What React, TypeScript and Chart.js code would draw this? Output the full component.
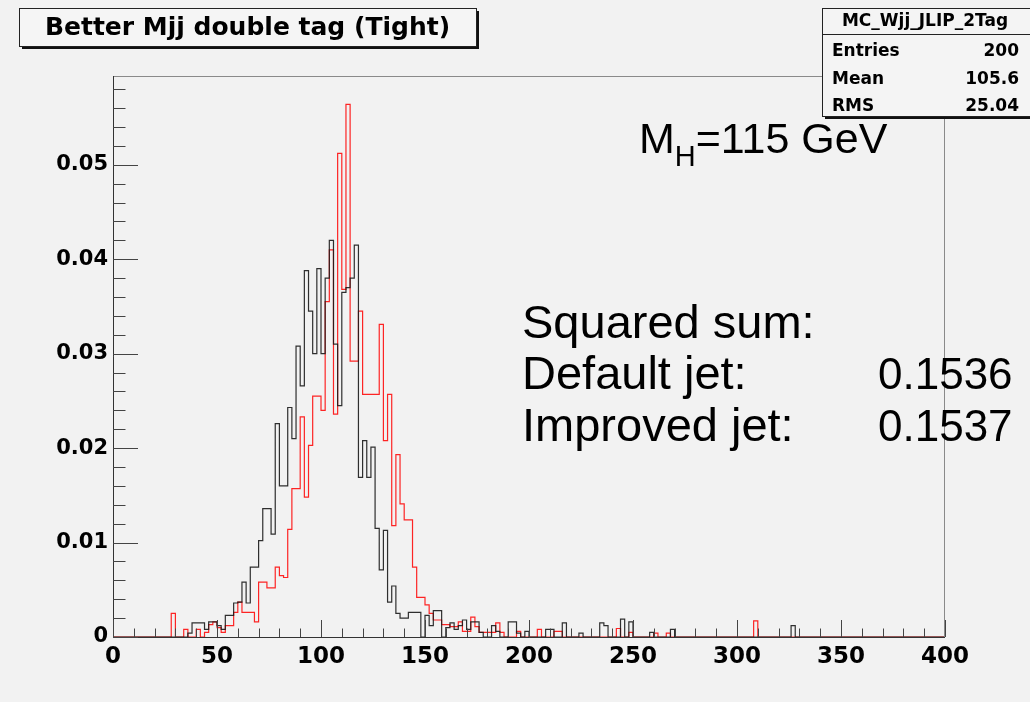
import React, { useEffect, useRef } from "react";
import { Chart, registerables } from "chart.js";

Chart.register(...registerables);

// ---------- data ----------
const BIN_WIDTH = 2;
const X_MIN = 0;
const X_MAX = 400;
const Y_MAX = 0.0594;
const CORE_START = 30; // low edge of first bin in the dense arrays

// Default jet (black), bins of 2 GeV from 30 to 160 GeV
const defaultJetCore = [
  0, 0, 0, 0, 0.0004, 0.0015, 0.0015, 0.0015, 0.0008, 0.0016,
  0.0016, 0.0012, 0.0008, 0.0023, 0.0023, 0.0036, 0.0037, 0.0058, 0.0036, 0.0074,
  0.0074, 0.0102, 0.0136, 0.0136, 0.0109, 0.0226, 0.016, 0.016, 0.0243, 0.021,
  0.0308, 0.0266, 0.0388, 0.0345, 0.03, 0.039, 0.03, 0.038, 0.042, 0.031,
  0.0245, 0.0365, 0.037, 0.038, 0.0415, 0.0169, 0.0208, 0.0169, 0.0201, 0.0115,
  0.0071, 0.0113, 0.0037, 0.0054, 0.0025, 0.002, 0.002, 0.0026, 0.0026, 0.0026,
  0, 0.0023, 0.0012, 0.0028, 0.0028,
];

// Improved jet (red), bins of 2 GeV from 30 to 160 GeV
const improvedJetCore = [
  0.0025, 0, 0, 0.0008, 0, 0, 0.0008, 0, 0.0005, 0.0013,
  0.0016, 0.001, 0.0005, 0.0012, 0.0012, 0.0026, 0.0037, 0.0026, 0.0026, 0.0026,
  0.0016, 0.0058, 0.0058, 0.0052, 0.0052, 0.0074, 0.0065, 0.0063, 0.0114, 0.0157,
  0.0157, 0.0233, 0.0148, 0.0203, 0.0255, 0.0255, 0.024, 0.0355, 0.041, 0.0236,
  0.0512, 0.0368, 0.0564, 0.0292, 0.0292, 0.0345, 0.0257, 0.0257, 0.0257, 0.0257,
  0.0331, 0.0208, 0.0257, 0.0118, 0.0193, 0.0141, 0.0124, 0.0124, 0.0074, 0.0042,
  0.0042, 0.0034, 0.0025, 0.0018, 0.0018,
];

// sparse tails: bin low edges (GeV) and contents
const defaultJetTailEdges = [162, 164, 166, 168, 170, 172, 174, 176, 178, 184, 186, 192, 194, 196, 200, 210, 212, 218, 226, 236, 238, 246, 250, 260, 270, 328];
const defaultJetTailValues = [0.001, 0.0015, 0.0008, 0.0012, 0.0018, 0.0008, 0.0016, 0.0016, 0.0005, 0.0012, 0.0006, 0.0016, 0.0016, 0.0004, 0.0006, 0.0008, 0.0008, 0.0015, 0.0004, 0.0015, 0.0012, 0.0019, 0.0016, 0.0005, 0.0008, 0.0012];

const improvedJetTailEdges = [160, 162, 164, 166, 168, 170, 172, 174, 176, 178, 180, 182, 184, 186, 188, 196, 206, 214, 216, 244, 250, 262, 268, 310];
const improvedJetTailValues = [0.0013, 0.0013, 0.0011, 0.0011, 0.0016, 0.0006, 0.0006, 0.0021, 0.0011, 0.0005, 0.0005, 0.0005, 0.0005, 0.0015, 0.0005, 0.0006, 0.0008, 0.0006, 0.0006, 0.0009, 0.0005, 0.0004, 0.0004, 0.0017];

const titleText = "Better Mjj double tag (Tight)";
const statsName = "MC_Wjj_JLIP_2Tag";
const statsLabels = ["Entries", "Mean", "RMS"];
const statsValues = ["200", "105.6", "25.04"];
const summaryLabels = ["Squared sum:", "Default jet:", "Improved jet:"];
const summaryValues = ["", "0.1536", "0.1537"];

// ---------- helpers ----------
function buildBins(core: number[], tailEdges: number[], tailValues: number[]) {
  const n = (X_MAX - X_MIN) / BIN_WIDTH;
  const bins = new Array(n).fill(0);
  const off = (CORE_START - X_MIN) / BIN_WIDTH;
  core.forEach((v, i) => (bins[off + i] = v));
  tailEdges.forEach((e, i) => (bins[(e - X_MIN) / BIN_WIDTH] = tailValues[i]));
  return bins;
}

function toSteps(bins: number[]) {
  const pts = bins.map((v, i) => ({ x: X_MIN + i * BIN_WIDTH, y: v }));
  pts.push({ x: X_MAX, y: bins[bins.length - 1] });
  return pts;
}

const rootPlugin = {
  id: "rootStyle",
  beforeDraw(chart: any) {
    const ctx = chart.ctx;
    ctx.save();
    ctx.fillStyle = "#f2f2f2";
    ctx.fillRect(0, 0, chart.width, chart.height);
    ctx.restore();
  },
  afterDatasetsDraw(chart: any) {
    const ctx = chart.ctx;
    const { left, right, top, bottom } = chart.chartArea;
    const xs = chart.scales.x;
    const ys = chart.scales.y;
    ctx.save();
    // frame
    ctx.strokeStyle = "#8a8a8a";
    ctx.lineWidth = 1;
    ctx.strokeRect(left + 0.5, top + 0.5, right - left - 1, bottom - top);
    // axes
    ctx.strokeStyle = "#333";
    ctx.beginPath();
    ctx.moveTo(left + 0.5, top);
    ctx.lineTo(left + 0.5, bottom + 0.5);
    ctx.lineTo(right, bottom + 0.5);
    ctx.stroke();
    // x ticks (inward)
    ctx.strokeStyle = "#444";
    ctx.beginPath();
    for (let v = X_MIN; v <= X_MAX; v += 10) {
      const px = Math.round(xs.getPixelForValue(v)) + 0.5;
      const len = v % 50 === 0 ? 17 : 8.5;
      ctx.moveTo(px, bottom);
      ctx.lineTo(px, bottom - len);
    }
    ctx.stroke();
    // y ticks (inward)
    ctx.beginPath();
    for (let i = 0; i * 0.002 <= Y_MAX + 1e-9; i++) {
      const py = Math.round(ys.getPixelForValue(i * 0.002)) + 0.5;
      const len = i % 5 === 0 ? 25 : 12.5;
      ctx.moveTo(left, py);
      ctx.lineTo(left + len, py);
    }
    ctx.stroke();
    ctx.restore();
  },
  afterDraw(chart: any) {
    const ctx = chart.ctx;
    ctx.save();
    // ---- title box ----
    const tx = 19, ty = 8, tw = 457, th = 38;
    ctx.fillStyle = "#111";
    ctx.fillRect(tx + 3, ty + 3, tw, th);
    ctx.fillStyle = "#f5f5f5";
    ctx.fillRect(tx, ty, tw, th);
    ctx.strokeStyle = "#222";
    ctx.lineWidth = 1;
    ctx.strokeRect(tx + 0.5, ty + 0.5, tw, th);
    ctx.fillStyle = "#000";
    ctx.font = "bold 25px 'DejaVu Sans'";
    ctx.textAlign = "center";
    ctx.textBaseline = "middle";
    ctx.fillText(titleText, tx + tw / 2, ty + th / 2 + 1, tw - 20);

    // ---- stats box ----
    const sx = 822, sy = 8, sw = 215, sh = 108;
    ctx.fillStyle = "#111";
    ctx.fillRect(sx + 3, sy + 3, sw, sh);
    ctx.fillStyle = "#f4f4f4";
    ctx.fillRect(sx, sy, sw, sh);
    ctx.strokeStyle = "#222";
    ctx.strokeRect(sx + 0.5, sy + 0.5, sw, sh);
    ctx.beginPath();
    ctx.moveTo(sx, 34.5);
    ctx.lineTo(sx + sw, 34.5);
    ctx.stroke();
    ctx.fillStyle = "#000";
    ctx.font = "bold 17px 'DejaVu Sans'";
    ctx.textAlign = "center";
    ctx.textBaseline = "middle";
    ctx.fillText(statsName, 925, 22, 186);
    ctx.font = "bold 17px 'DejaVu Sans'";
    const rowY = [52, 80, 107];
    statsLabels.forEach((lab, i) => {
      ctx.textAlign = "left";
      ctx.fillText(lab, 832, rowY[i]);
      ctx.textAlign = "right";
      ctx.fillText(statsValues[i], 1019, rowY[i]);
    });

    // ---- M_H label ----
    ctx.textAlign = "left";
    ctx.textBaseline = "alphabetic";
    ctx.font = "43px 'Liberation Sans'";
    ctx.fillText("M", 639, 153);
    const mW = ctx.measureText("M").width;
    ctx.font = "29px 'Liberation Sans'";
    ctx.fillText("H", 639 + mW, 166);
    const hW = ctx.measureText("H").width;
    ctx.font = "43px 'Liberation Sans'";
    ctx.fillText("=115 GeV", 639 + mW + hW, 153);

    // ---- squared sum block ----
    const lineY = [338, 389, 441];
    summaryLabels.forEach((lab, i) => {
      ctx.textAlign = "left";
      ctx.font = "47px 'Liberation Sans'";
      ctx.fillText(lab, 522, lineY[i]);
      if (summaryValues[i]) {
        ctx.font = "44px 'Liberation Sans'";
        ctx.fillText(summaryValues[i], 878, lineY[i]);
      }
    });
    ctx.restore();
  },
};

export default function App() {
  const ref = useRef<HTMLCanvasElement | null>(null);

  useEffect(() => {
    document.body.style.margin = "0";
    document.body.style.background = "#f2f2f2";
    const canvas = ref.current;
    if (!canvas) return;
    const defaultBins = buildBins(defaultJetCore, defaultJetTailEdges, defaultJetTailValues);
    const improvedBins = buildBins(improvedJetCore, improvedJetTailEdges, improvedJetTailValues);

    const chart = new Chart(canvas, {
      type: "line",
      data: {
        datasets: [
          {
            label: "Default jet",
            data: toSteps(defaultBins),
            stepped: "after",
            borderColor: "rgba(25,25,25,0.9)",
            borderWidth: 1.2,
            pointRadius: 0,
            fill: false,
          },
          {
            label: "Improved jet",
            data: toSteps(improvedBins),
            stepped: "after",
            borderColor: "rgba(255,0,0,0.85)",
            borderWidth: 1.2,
            pointRadius: 0,
            fill: false,
          },
        ],
      },
      options: {
        responsive: false,
        maintainAspectRatio: false,
        animation: false,
        layout: { padding: { top: 76, right: 85, left: 0, bottom: 0 } },
        plugins: {
          legend: { display: false },
          tooltip: { enabled: false },
          title: { display: false },
        },
        scales: {
          x: {
            type: "linear",
            min: X_MIN,
            max: X_MAX,
            afterFit: (s: any) => {
              s.height = 65;
            },
            grid: { display: false, drawTicks: false },
            border: { display: false },
            ticks: {
              stepSize: 50,
              autoSkip: false,
              maxRotation: 0,
              padding: 6,
              color: "#000",
              font: { family: "'DejaVu Sans'", size: 23, weight: "bold" },
            },
          },
          y: {
            type: "linear",
            min: 0,
            max: Y_MAX,
            afterFit: (s: any) => {
              s.width = 113;
            },
            grid: { display: false, drawTicks: false },
            border: { display: false },
            ticks: {
              stepSize: 0.01,
              includeBounds: false,
              padding: 5,
              color: "#000",
              font: { family: "'DejaVu Sans'", size: 21, weight: "bold" },
              callback: (v: any) => (Math.abs(v) < 1e-9 ? "0" : Number(v).toFixed(2)),
            },
          },
        },
      },
      plugins: [rootPlugin],
    });
    return () => chart.destroy();
  }, []);

  return (
    <div style={{ position: "absolute", left: 0, top: 0, width: 1030, height: 702, background: "#f2f2f2" }}>
      <canvas ref={ref} width={1030} height={702} style={{ display: "block", width: 1030, height: 702 }} />
    </div>
  );
}
